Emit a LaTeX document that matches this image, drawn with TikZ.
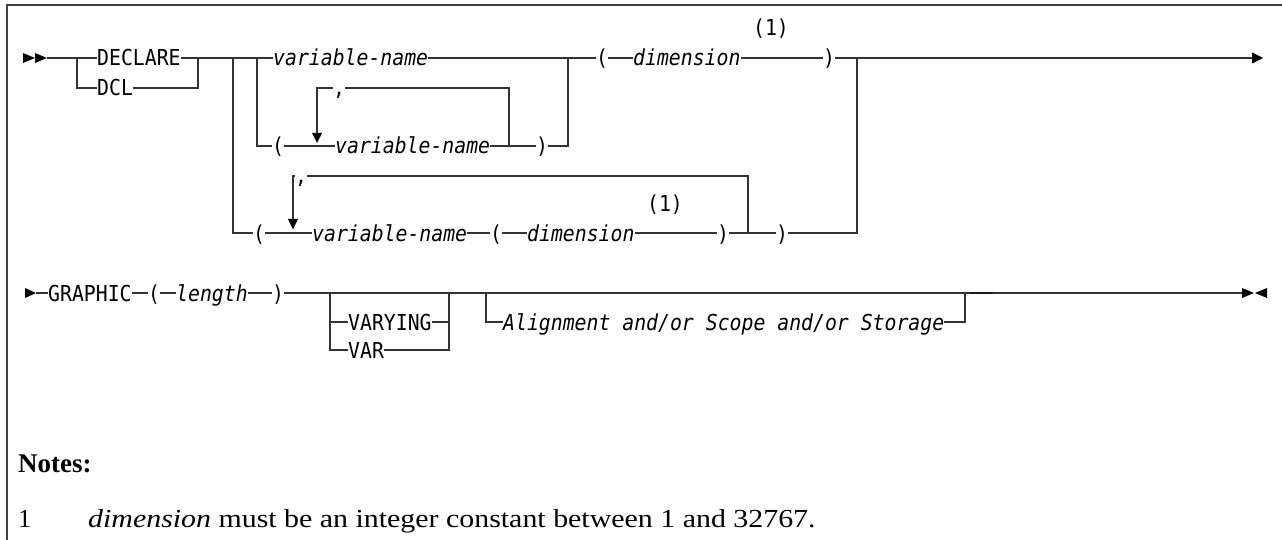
\documentclass[tikz,border=0pt]{standalone}
\usepackage{fontspec}
\usepackage{graphicx}
\newfontfamily\dmono[FakeStretch=0.9]{DejaVu Sans Mono}
\newfontfamily\nserif{Liberation Serif}
\tikzset{
  tx/.style={inner sep=0pt, text height=16pt, text depth=0pt, anchor=west, font=\dmono\fontsize{22}{26}\selectfont},
  it/.style={tx, font=\dmono\itshape\fontsize{22}{26}\selectfont},
  ln/.style={draw=black!80, line width=1.1pt, line join=miter},
  tip/.style={fill=black},
  fnote/.style={tx, text height=, text depth=, anchor=center},
}
\begin{document}
\begin{tikzpicture}[x=1pt,y=-1pt]
\useasboundingbox (0,0) rectangle (1282,540);
% frame
\draw[line width=1.2pt, black!75] (7,540) -- (7,5) -- (1282,5);

% ---------- junction coordinates ----------
\coordinate (a0) at (47,58);
\coordinate (j1) at (77,58);
\coordinate (j2) at (198,58);
\coordinate (j3) at (233,58);
\coordinate (j4) at (257,58);
\coordinate (j5) at (568,58);
\coordinate (j6) at (857,58);
\coordinate (e1) at (1253,58);
\coordinate (l2arr) at (317,133);
\coordinate (l2d) at (509,146);
\coordinate (l3arr) at (293,219);
\coordinate (l3d) at (748,233);
\coordinate (a4) at (36,293);
\coordinate (k1) at (330,293);
\coordinate (k2) at (449,293);
\coordinate (k3) at (486,293);
\coordinate (k4) at (965,293);
\coordinate (e4) at (1242,293);

% ---------- row 1 ----------
\node[tx] (decl) at (97,58) {DECLARE};
\node[tx] (dcl)  at (97,88) {DCL};
\node[it] (vn1)  at (273,58) {variable-name};
\node[tx] (lp1)  at (596,58) {(};
\node[it] (dim1) at (633,58) {dimension};
\node[tx] (rp1)  at (823,58) {)};
\node[fnote] (n1) at (771,29) {(1)};

% ---------- row 2 ----------
\node[tx] (cm2) at (333,88) {,};
\node[tx] (lp2) at (272,146) {(};
\node[it] (vn2) at (335,146) {variable-name};
\node[tx] (rp2) at (536,146) {)};

% ---------- row 3 ----------
\node[tx] (cm3)  at (295,176) {,};
\node[tx] (lp3)  at (253,233) {(};
\node[it] (vn3)  at (312,233) {variable-name};
\node[tx] (lp3b) at (490,233) {(};
\node[it] (dim3) at (527,233) {dimension};
\node[tx] (rp3)  at (717,233) {)};
\node[tx] (rp3b) at (776,233) {)};
\node[fnote] (n3) at (665,205) {(1)};

% ---------- row 4 ----------
\node[tx] (graphic) at (48,293) {GRAPHIC};
\node[tx] (lp4) at (148,293) {(};
\node[it] (len) at (176,293) {length};
\node[tx] (rp4) at (272,293) {)};
\node[tx] (varying) at (348,322) {VARYING};
\node[tx] (var) at (348,350) {VAR};
\node[it] (align) at (503,322) {Alignment and/or Scope and/or Storage};

% ---------- connectors row 1-3 ----------
\fill[tip] (23,53) -- (35,58) -- (23,63) -- cycle;
\fill[tip] (35,53) -- (47,58) -- (35,63) -- cycle;
\draw[ln] (a0) -- (decl.west);
\draw[ln] (j1) |- (dcl.west);
\draw[ln] (decl.east) -| (dcl.east -| j2) -- (dcl.east);
\draw[ln] (j2) -- (vn1.west);
\draw[ln] (j4) |- (lp2.west);
\draw[ln] (lp2.east) -- (vn2.west);
\draw[ln] (vn2.east) -- (rp2.west);
\draw[ln] (rp2.east) -| (j5);
\draw[ln] (vn1.east) -- (lp1.west);
\draw[ln] (lp1.east) -- (dim1.west);
\draw[ln] (dim1.east) -- (rp1.west);
\draw[ln] (rp1.east) -- (e1);
\fill[tip] (1252,52.5) -- (1263,58) -- (1252,63.5) -- cycle;
% loop 2
\draw[ln] (l2arr) |- (cm2.west);
\draw[ln] (cm2.east) -| (l2d);
\fill[tip] (312,133) -- (322,133) -- (317,143) -- cycle;
% outer branch
\draw[ln] (j3) |- (lp3.west);
\draw[ln] (lp3.east) -- (vn3.west);
\draw[ln] (vn3.east) -- (lp3b.west);
\draw[ln] (lp3b.east) -- (dim3.west);
\draw[ln] (dim3.east) -- (rp3.west);
\draw[ln] (rp3.east) -- (rp3b.west);
\draw[ln] (rp3b.east) -| (j6);
% loop 3
\draw[ln] (l3arr) |- (cm3.west);
\draw[ln] (cm3.east) -| (l3d);
\fill[tip] (288,219) -- (298,219) -- (293,229.5) -- cycle;

% ---------- connectors row 4 ----------
\fill[tip] (25,288) -- (36,293) -- (25,298) -- cycle;
\draw[ln] (a4) -- (graphic.west);
\draw[ln] (graphic.east) -- (lp4.west);
\draw[ln] (lp4.east) -- (len.west);
\draw[ln] (len.east) -- (rp4.west);
\draw[ln] (rp4.east) -- (e4);
\draw[ln] (k1) |- (var.west);
\draw[ln] (k1 |- varying.west) -- (varying.west);
\draw[ln] (varying.east) -| (k2);
\draw[ln] (var.east) -| (k2);
\draw[ln] (k3) |- (align.west);
\draw[ln] (align.east) -| (k4);
\draw[line width=2.2pt, black!90] (970,293) -- (993,293);
\fill[tip] (1242,288) -- (1254,293) -- (1242,298) -- cycle;
\fill[tip] (1267,288) -- (1255,293) -- (1267,298) -- cycle;

% ---------- notes ----------
\node[anchor=base west, inner sep=0pt, font=\nserif\bfseries\fontsize{27}{30}\selectfont] (notes) at (18,472) {Notes:};
\node[anchor=base west, inner sep=0pt, font=\nserif\fontsize{26}{30}\selectfont] (fnum) at (18,527) {1};
\node[anchor=base west, inner sep=0pt] (ftext) at (88,527) {\scalebox{1.15}[1]{\nserif\fontsize{26}{30}\selectfont\textit{dimension} must be an integer constant between 1 and 32767.}};
\end{tikzpicture}
\end{document}
